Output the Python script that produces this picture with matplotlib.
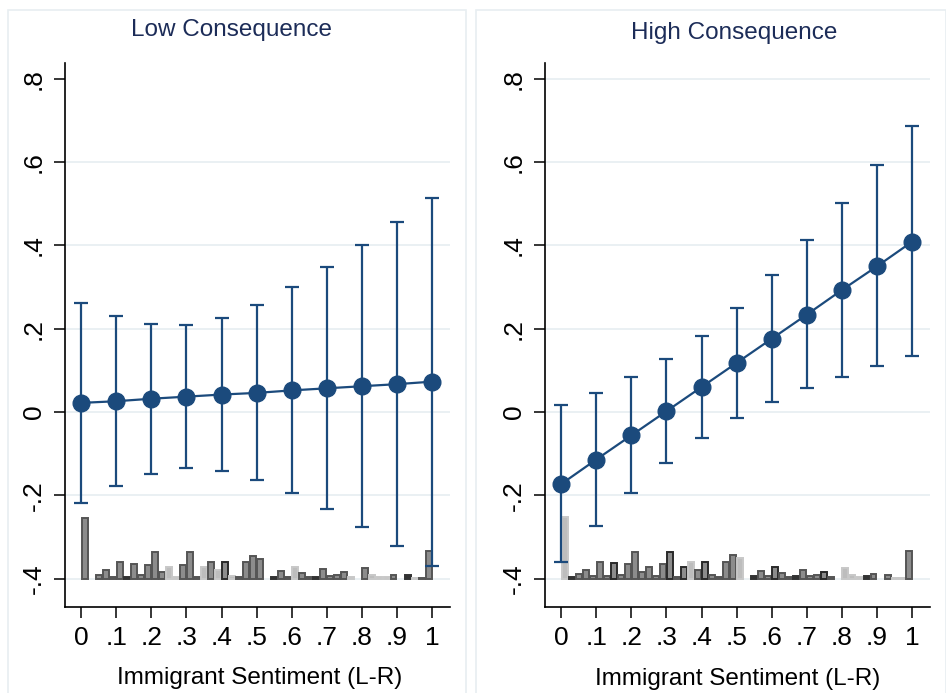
import matplotlib
matplotlib.use('Agg')
import matplotlib.pyplot as plt
from matplotlib.patches import Rectangle

# Predicted values and 95% CIs at each level of immigrant sentiment
x_vals = [0, .1, .2, .3, .4, .5, .6, .7, .8, .9, 1]

low_est = [0.022, 0.026, 0.032, 0.037, 0.042, 0.046, 0.052, 0.057, 0.062, 0.067, 0.073]
low_hi = [0.262, 0.231, 0.212, 0.210, 0.226, 0.257, 0.300, 0.349, 0.402, 0.457, 0.515]
low_lo = [-0.218, -0.177, -0.148, -0.134, -0.141, -0.162, -0.194, -0.233, -0.276, -0.322, -0.369]

high_est = [-0.173, -0.114, -0.056, 0.002, 0.060, 0.118, 0.176, 0.234, 0.293, 0.350, 0.409]
high_hi = [0.017, 0.046, 0.083, 0.128, 0.183, 0.250, 0.330, 0.412, 0.501, 0.592, 0.686]
high_lo = [-0.361, -0.274, -0.194, -0.122, -0.062, -0.014, 0.025, 0.058, 0.085, 0.110, 0.134]

# distribution of the moderator (bar heights above the -.4 baseline), 50 bins of width .02
bin_centers = [0.01 + 0.02 * i for i in range(50)]
low_hist = [0.146, 0, 0.010, 0.020, 0.005, 0.039, 0.005, 0.036, 0.010, 0.034,
            0.063, 0.015, 0.028, 0.005, 0.034, 0.065, 0.004, 0.028, 0.039, 0.022,
            0.039, 0.007, 0.005, 0.039, 0.055, 0.048, 0, 0.005, 0.018, 0.005,
            0.028, 0.014, 0.005, 0.005, 0.023, 0.007, 0.010, 0.015, 0.003, 0,
            0.025, 0.008, 0.004, 0.005, 0.010, 0, 0.008, 0.002, 0.002, 0.066]
high_hist = [0.149, 0.003, 0.012, 0.021, 0.006, 0.041, 0.006, 0.038, 0.010, 0.036,
             0.064, 0.016, 0.028, 0.006, 0.036, 0.064, 0.005, 0.028, 0.041, 0.020,
             0.041, 0.008, 0.005, 0.041, 0.057, 0.049, 0, 0.006, 0.018, 0.006,
             0.028, 0.014, 0.003, 0.006, 0.022, 0.006, 0.008, 0.016, 0.004, 0,
             0.026, 0.010, 0.003, 0.006, 0.011, 0, 0.010, 0.002, 0.002, 0.066]
# shade of each bar: m = medium, l = light, d = dark outline, k = dark fill
low_shade = list('mmmmmmkmmmmmllmmmlmldlmmmmmkmmlmmkmmmmlmmlllmmklmm')
high_shade = list('lkmmmmmdmmmmmmmdmdlmdmmmmlmkmmdmmkmmmdmmlllkmmmllm')

y_ticks = [-.4, -.2, 0, .2, .4, .6, .8]
y_labels = ['-.4', '-.2', '0', '.2', '.4', '.6', '.8']
x_labels = ['0', '.1', '.2', '.3', '.4', '.5', '.6', '.7', '.8', '.9', '1']

titles = ['Low Consequence', 'High Consequence']
xlabel = 'Immigrant Sentiment (L-R)'

navy = '#1b4a7c'
grid_c = '#e6edf1'
shades = {'m': ('#8c8c8c', '#555555'), 'l': ('#bdbdbd', '#c8c8c8'),
          'd': ('#8c8c8c', '#2a2a2a'), 'k': ('#333333', '#333333')}

plt.rcParams['font.family'] = ['Liberation Sans', 'DejaVu Sans']

fig = plt.figure(figsize=(9.46, 6.93), dpi=100)
fig.patch.set_facecolor('white')

# light panel frames
for x0, w in [(8, 458), (476, 470)]:
    fig.patches.append(Rectangle((x0 / 946, -0.01), w / 946, 1 - 10 / 693 + 0.01,
                                 transform=fig.transFigure, fill=False,
                                 edgecolor='#e8eef1', linewidth=1.2))

panels = [
    (0.0687, low_est, low_lo, low_hi, low_hist, low_shade, False),
    (0.5761, high_est, high_lo, high_hi, high_hist, high_shade, True),
]
title_pos = [(0.245, 0.957), (0.776, 0.952)]
xlab_pos = [(0.274, 0.022), (0.780, 0.020)]

for i, (left, est, lo, hi, hist, shade, grid_top) in enumerate(panels):
    ax = fig.add_axes([left, 0.1241, 0.407, 0.785])
    ax.set_xlim(-0.046, 1.051)
    ax.set_ylim(-0.468, 0.838)

    for yt in y_ticks:
        if yt == .8 and not grid_top:
            continue
        ax.axhline(yt, color=grid_c, linewidth=1.2, zorder=0)

    for xc, h, s in zip(bin_centers, hist, shade):
        if h <= 0:
            continue
        fc, ec = shades[s]
        ax.bar(xc, h, width=0.017, bottom=-0.4, color=fc, edgecolor=ec,
               linewidth=1.4, zorder=1)

    yerr = [[e - l for e, l in zip(est, lo)], [h - e for e, h in zip(est, hi)]]
    ax.errorbar(x_vals, est, yerr=yerr, fmt='none', ecolor=navy, elinewidth=1.6,
                capsize=4.8, capthick=1.6, zorder=2)
    ax.plot(x_vals, est, color=navy, linewidth=1.6, marker='o', markersize=12,
            markerfacecolor=navy, markeredgecolor=navy, zorder=3)

    ax.set_yticks(y_ticks)
    ax.set_yticklabels(y_labels, rotation=90, va='center', fontsize=19)
    ax.set_xticks(x_vals)
    ax.set_xticklabels(x_labels, fontsize=19)
    ax.tick_params(axis='both', direction='out', length=8, width=1.1, pad=6)
    for side in ['top', 'right']:
        ax.spines[side].set_visible(False)
    for side in ['left', 'bottom']:
        ax.spines[side].set_linewidth(1.2)

    fig.text(*title_pos[i], titles[i], ha='center', va='center', fontsize=17.5,
             color='#1c2c58')
    fig.text(*xlab_pos[i], xlabel, ha='center', va='center', fontsize=17.5)

fig.savefig('out.png', dpi=100, facecolor='white')
